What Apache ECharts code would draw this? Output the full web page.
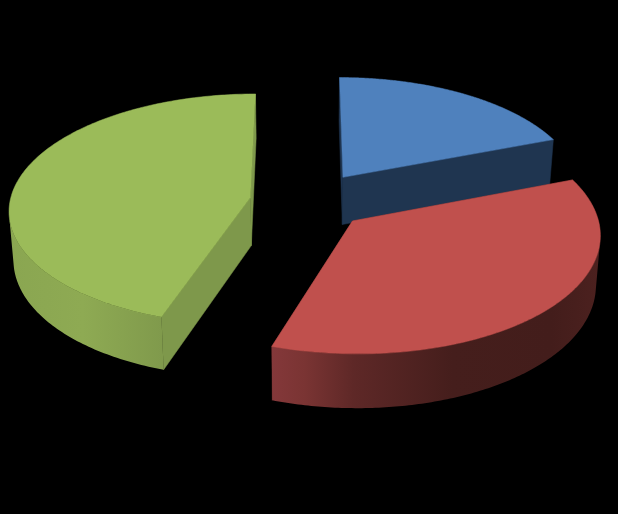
<!DOCTYPE html>
<html>
<head>
<meta charset="utf-8">
<style>html,body{margin:0;padding:0;background:#000}#c{width:618px;height:514px}</style>
<script src="https://cdn.jsdelivr.net/npm/echarts@6/dist/echarts.min.js"></script>
</head>
<body>
<div id="c"></div>
<script>
const categories = ['Slice 1', 'Slice 2', 'Slice 3'];
const values = [19.2, 35.9, 44.9];

const topColors = ['#4f81bd', '#c0504d', '#9bbb59'];
const wallColors = ['#1f3550', '#6e2d2b', '#7e984b'];
const rimStops = [
  [[0, '#2c4a70'], [1, '#1f3550']],
  [[0, '#84383a'], [0.1, '#7a3433'], [0.25, '#5e2827'], [0.55, '#451e1c'], [0.85, '#431d1b'], [1, '#4c211f']],
  [[0, '#8aa651'], [0.3, '#8eaa53'], [0.62, '#809a4c'], [1, '#748e48']]
];
const offsetX = [0.160, 0.193, -0.226];
const offsetY = [-0.175, 0.205, 0.005];
const radii = [0.99, 1, 0.994];

const V = { x0: 305, y0: 197, A: 241, B: 114.5, p: 0.10, depth: 48, depthGrow: 0.04, shrink: 0.985 };

function topPoint(i, ang, r) {
  const X = offsetX[i] + r * radii[i] * Math.sin(ang);
  const Y = offsetY[i] - r * radii[i] * Math.cos(ang);
  const w = 1 - V.p * Y;
  return [V.x0 + V.A * X / w, V.y0 + V.B * Y / w];
}
function lower(pt) {
  return [V.x0 + (pt[0] - V.x0) * V.shrink, pt[1] + V.depth + V.depthGrow * (pt[1] - V.y0)];
}
const total = values.reduce((a, b) => a + b, 0);

function renderItem(params, api) {
  const i = params.dataIndex;
  let before = 0;
  for (let k = 0; k < i; k++) before += values[k];
  const a0 = before / total * 2 * Math.PI;
  const a1 = (before + api.value(0)) / total * 2 * Math.PI;
  const arc = [];
  const n = 180;
  for (let k = 0; k <= n; k++) arc.push(topPoint(i, a0 + (a1 - a0) * k / n, 1));
  const apex = topPoint(i, 0, 0);

  // keep only the stretch of outer wall that faces the viewer
  const front = [];
  for (let k = 0; k < n; k++) {
    const p = arc[k], q = arc[k + 1], d = lower(p);
    const cross = (q[0] - p[0]) * (d[1] - p[1]) - (q[1] - p[1]) * (d[0] - p[0]);
    if (cross < 0) {
      if (!front.length || front[front.length - 1] !== p) front.push(p);
      front.push(q);
    }
  }
  const xs = arc.map(p => p[0]);
  const xMin = Math.min.apply(null, xs), xMax = Math.max.apply(null, xs);
  const stops = rimStops[i].map(s => ({ offset: s[0], color: s[1] }));
  const wall = (p, q) => ({
    type: 'polygon',
    shape: { points: [p, q, lower(q), lower(p)] },
    style: { fill: wallColors[i], stroke: wallColors[i], lineWidth: 0.5 }
  });
  const children = [wall(apex, arc[0]), wall(apex, arc[n])];
  if (front.length > 1) {
    children.push({
      type: 'polygon',
      shape: { points: front.concat(front.map(lower).reverse()) },
      style: { fill: { type: 'linear', x: xMin, y: 0, x2: xMax, y2: 0, global: true, colorStops: stops } }
    });
  }
  children.push({
    type: 'polygon',
    shape: { points: [apex].concat(arc) },
    style: { fill: topColors[i], stroke: topColors[i], lineWidth: 0.5 }
  });
  return { type: 'group', children: children };
}

const chart = echarts.init(document.getElementById('c'), null, { renderer: 'canvas' });
chart.setOption({
  backgroundColor: '#000000',
  animation: false,
  series: [{
    type: 'custom',
    coordinateSystem: 'none',
    renderItem: renderItem,
    data: values.map((v, i) => ({ name: categories[i], value: [v] }))
  }]
});
</script>
</body>
</html>
